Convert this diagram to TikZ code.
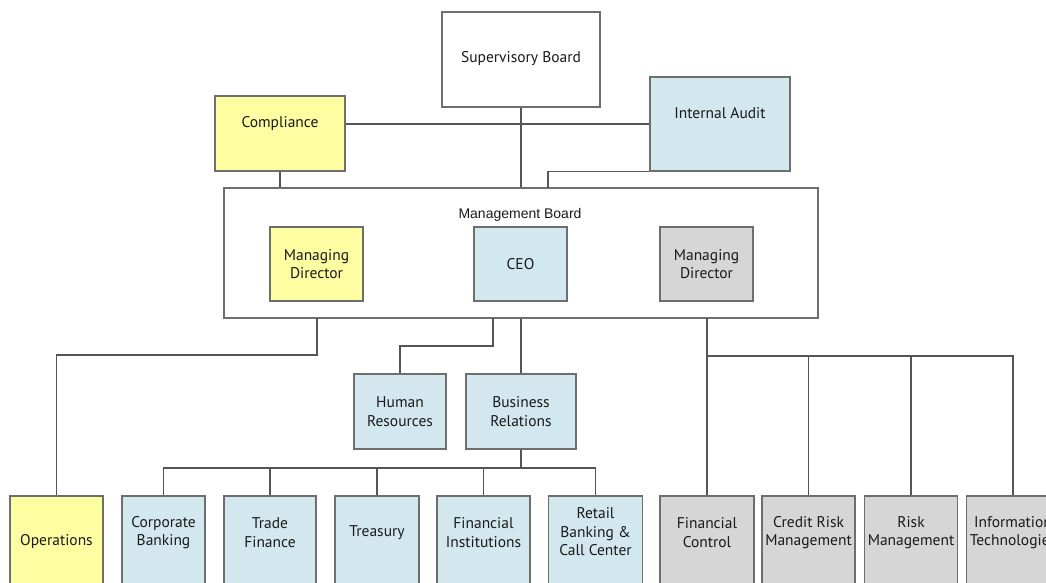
\documentclass[tikz,border=0pt]{standalone}
\usepackage{tikz}
\usepackage{fontspec}
\setmainfont{PT Sans}
\newfontfamily\mbfont{Liberation Sans}
\definecolor{boxline}{HTML}{6E6E6E}
\definecolor{wire}{HTML}{555555}
\definecolor{txtcol}{HTML}{1A1A1A}
\definecolor{fillY}{HTML}{FDFDA2}
\definecolor{fillB}{HTML}{D3E8EE}
\definecolor{fillG}{HTML}{D6D6D6}
\begin{document}
\begin{tikzpicture}[x=1pt,y=-1pt,
  box/.style={draw=boxline, line width=1.1pt, inner sep=0pt},
  ybox/.style={box, fill=fillY},
  bbox/.style={box, fill=fillB},
  gbox/.style={box, fill=fillG},
  wbox/.style={box, fill=white},
  txt/.style={font=\fontsize{15.5}{18.5}\selectfont, align=center, text=txtcol, inner sep=0pt},
  wire/.style={draw=wire, line width=1.1pt}]
\clip (0,0) rectangle (1046,582);
\fill[white] (0,0) rectangle (1046,582);

% --- top level ---
\node[wbox, minimum width=158, minimum height=95] (sup) at (521,59.5) {};
\node[txt] (supT) at (521,59) {Supervisory Board};

\node[ybox, minimum width=130, minimum height=75] (comp) at (280,133.5) {};
\node[txt] (compT) at (280,124) {Compliance};

\node[bbox, minimum width=140, minimum height=94] (ia) at (720,124) {};
\node[txt] (iaT) at (720,113) {Internal Audit};

% --- management board ---
\node[wbox, minimum width=594, minimum height=130] (mb) at (521,253) {};
\node[font=\mbfont\fontsize{14}{16}\selectfont, text=txtcol, inner sep=0pt] (mbT) at (520,215) {Management Board};

\node[ybox, minimum width=93, minimum height=74] (mdl) at (316.5,264) {};
\node[txt] (mdlT) at (316.5,264) {Managing\\Director};
\node[bbox, minimum width=93, minimum height=74] (ceo) at (520.5,264) {};
\node[txt] (ceoT) at (520.5,264) {CEO};
\node[gbox, minimum width=93, minimum height=74] (mdr) at (706.5,264) {};
\node[txt] (mdrT) at (706.5,264) {Managing\\Director};

% --- staff units under the CEO ---
\node[bbox, minimum width=92, minimum height=75] (hr) at (400,411.5) {};
\node[txt] (hrT) at (400,411.5) {Human\\Resources};
\node[bbox, minimum width=110, minimum height=75] (br) at (521,411.5) {};
\node[txt] (brT) at (521,411.5) {Business\\Relations};

% --- bottom row ---
\node[ybox, minimum width=93, minimum height=104] (ops) at (56.5,548) {};
\node[txt] (opsT) at (56.5,541.5) {Operations};
\node[bbox, minimum width=83, minimum height=104] (cb) at (163.5,548) {};
\node[txt] (cbT) at (163.5,532.5) {Corporate\\Banking};
\node[bbox, minimum width=92, minimum height=104] (tf) at (270,548) {};
\node[txt] (tfT) at (270,532.5) {Trade\\Finance};
\node[bbox, minimum width=84, minimum height=104] (tr) at (377,548) {};
\node[txt] (trT) at (377,532.5) {Treasury};
\node[bbox, minimum width=93, minimum height=104] (fi) at (483.5,548) {};
\node[txt] (fiT) at (483.5,532.5) {Financial\\Institutions};
\node[bbox, minimum width=94, minimum height=104] (rb) at (595.5,548) {};
\node[txt] (rbT) at (595.5,532) {Retail\\Banking \&\\Call Center};
\node[gbox, minimum width=94, minimum height=104] (fc) at (707,548) {};
\node[txt] (fcT) at (707,532.5) {Financial\\Control};
\node[gbox, minimum width=93, minimum height=104] (cr) at (808.5,548) {};
\node[txt] (crT) at (808.5,532.5) {Credit Risk\\Management};
\node[gbox, minimum width=93, minimum height=104] (rm) at (911,548) {};
\node[txt] (rmT) at (911,532.5) {Risk\\Management};
\node[gbox, minimum width=93, minimum height=104] (it) at (1013,548) {};
\node[txt] (itT) at (1013,532.5) {Information\\Technologies};

% --- junction points ---
\coordinate (mbIA) at (548,188);
\coordinate (mbOps) at (317,318);
\coordinate (opsJ) at (56.5,355);
\coordinate (mbHR) at (493,318);
\coordinate (hrJ) at (400,346);
\coordinate (mbGr) at (707,318);
\coordinate (grJ) at (707,356);
\coordinate (busB) at (521,468);

% --- connectors ---
\draw[wire] (sup.south) -- (sup.south |- mb.north);
\draw[wire] (comp.east |- ia.west) -- (ia.west);
\draw[wire] (comp.south) -- (comp.south |- mb.north);
\draw[wire] (ia.south west) -| (mbIA);

\draw[wire] (mbOps) |- (opsJ) -- (ops.north);
\draw[wire] (mbHR) |- (hrJ) -- (hr.north);
\draw[wire] (mb.south) -- (br.north);

\draw[wire] (br.south) -- (busB);
\draw[wire] (cb.north) |- (busB) -| (rb.north);
\draw[wire] (tf.north) -- (tf.north |- busB);
\draw[wire] (tr.north) -- (tr.north |- busB);
\draw[wire] (fi.north) -- (fi.north |- busB);

\draw[wire] (mbGr) -- (grJ) -- (fc.north);
\draw[wire] (grJ) -| (it.north);
\draw[wire] (cr.north) -- (cr.north |- grJ);
\draw[wire] (rm.north) -- (rm.north |- grJ);
\end{tikzpicture}
\end{document}
